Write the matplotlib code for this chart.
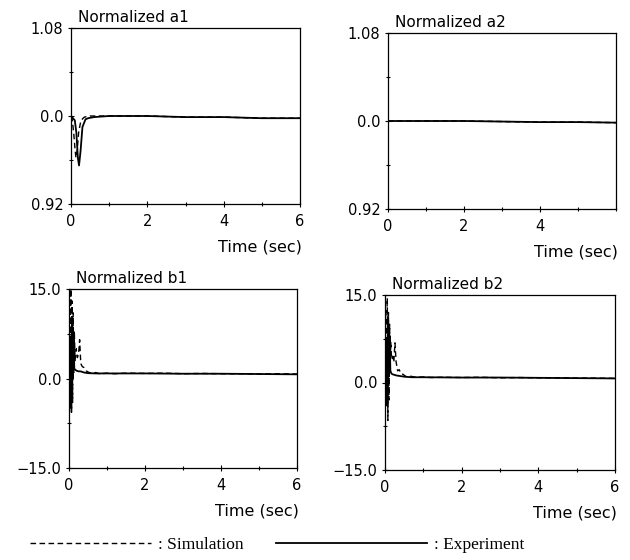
import matplotlib
matplotlib.use("Agg")
import matplotlib.pyplot as plt
from matplotlib.ticker import MultipleLocator

plt.rcParams['font.family'] = ['DejaVu Sans']

# ---------------- data ----------------
t_a1_exp = [0, 0.05, 0.10, 0.14, 0.18, 0.21, 0.25, 0.30, 0.38, 0.45, 0.6, 1.0, 2.0, 3.0, 4.0, 5.0, 6.0]
a1_exp = [1.0, 0.998, 0.996, 0.985, 0.962, 0.955, 0.968, 0.99, 0.997, 0.998, 0.999, 1.0, 1.0, 0.999, 0.999, 0.998, 0.998]
t_a1_sim = [0, 0.03, 0.07, 0.10, 0.13, 0.16, 0.20, 0.26, 0.35, 0.5, 1.0, 2.0, 3.0, 4.0, 5.0, 6.0]
a1_sim = [1.0, 0.997, 0.985, 0.972, 0.962, 0.968, 0.985, 0.996, 0.999, 1.0, 1.0, 1.0, 0.999, 0.999, 0.998, 0.998]

t_a2 = [0, 1.0, 2.0, 3.0, 4.0, 5.0, 6.0]
a2_exp = [1.0, 1.0, 1.0, 0.9995, 0.999, 0.999, 0.9985]
a2_sim = [1.0, 1.0, 1.0, 0.9995, 0.999, 0.999, 0.9985]

t_b1_sim = [0, 0.02, 0.04, 0.05, 0.065, 0.08, 0.095, 0.11, 0.125, 0.14, 0.16, 0.19, 0.22, 0.25, 0.28,
            0.31, 0.35, 0.40, 0.45, 0.5, 0.6, 0.7, 0.8, 1.0, 1.2, 1.5, 2.0, 2.5, 3.0, 3.5, 4.0, 4.5, 5.0, 5.5, 6.0]
b1_sim = [0, -3, 10, 15, -6, 13, -4, 11, 1, 8, 3, 5, 3.5, 4, 6.5,
          2.5, 2.0, 1.8, 1.3, 1.1, 0.8, 1.0, 0.8, 0.9, 0.8, 0.9, 0.85, 0.9, 0.8, 0.85, 0.8, 0.8, 0.75, 0.8, 0.75]
t_b1_exp = [0, 0.02, 0.04, 0.06, 0.08, 0.10, 0.12, 0.14, 0.16, 0.2, 0.25, 0.3, 0.4, 0.5, 0.7, 1.0, 2.0, 3.0, 4.0, 5.0, 6.0]
b1_exp = [0, 1.5, 6, -5, 10, 0, 7, 1.5, 1.5, 1.3, 1.2, 1.2, 1.0, 0.9, 0.85, 0.85, 0.85, 0.8, 0.8, 0.75, 0.7]

t_b2_sim = [0, 0.02, 0.04, 0.06, 0.075, 0.09, 0.105, 0.12, 0.135, 0.15, 0.17, 0.20, 0.23, 0.26, 0.29,
            0.33, 0.37, 0.42, 0.47, 0.55, 0.65, 0.8, 1.0, 1.2, 1.5, 2.0, 2.5, 3.0, 3.5, 4.0, 4.5, 5.0, 5.5, 6.0]
b2_sim = [0, -2, 9, 14.5, -6.5, 12, -3, 10, 2, 7, 4, 4.5, 3.5, 6.8, 3.5,
          2.0, 2.2, 1.5, 1.4, 1.0, 1.1, 0.9, 0.95, 0.85, 0.9, 0.85, 0.9, 0.8, 0.85, 0.8, 0.8, 0.75, 0.75, 0.7]
t_b2_exp = [0, 0.02, 0.04, 0.06, 0.08, 0.10, 0.12, 0.14, 0.17, 0.2, 0.25, 0.3, 0.4, 0.5, 0.7, 1.0, 2.0, 3.0, 4.0, 5.0, 6.0]
b2_exp = [0, 2, 7, -4, 11, 1, 8, 2, 1.5, 1.4, 1.3, 1.2, 1.1, 1.0, 0.9, 0.9, 0.85, 0.85, 0.8, 0.75, 0.7]

a_ticks = [0.92, 1.0, 1.08]
a_ticklabels = ["0.92", "0.0", "1.08"]
b_ticks = [-15, 0, 15]
b_ticklabels = ["\u221215.0", "0.0", "15.0"]
x_ticks = [0, 2, 4, 6]

titles = ["Normalized a1", "Normalized a2", "Normalized b1", "Normalized b2"]
xlabel = "Time (sec)"
legend_labels = [": Simulation", ": Experiment"]

# ---------------- figure ----------------
W, H = 630, 560
fig = plt.figure(figsize=(W / 100, H / 100), dpi=100)


def box(left, right, top, bottom):
    return [left / W, 1 - bottom / H, (right - left) / W, (bottom - top) / H]


positions = [
    box(71, 300, 28, 204),
    box(388, 616, 33, 209),
    box(69, 297, 289, 468),
    box(385, 615, 295, 470),
]
axes = [fig.add_axes(p) for p in positions]

sim_style = dict(color="black", lw=1.0, linestyle=(0, (4, 2.5)))
exp_style = dict(color="black", lw=1.3, linestyle="-")

series = [
    (t_a1_sim, a1_sim, t_a1_exp, a1_exp),
    (t_a2, a2_sim, t_a2, a2_exp),
    (t_b1_sim, b1_sim, t_b1_exp, b1_exp),
    (t_b2_sim, b2_sim, t_b2_exp, b2_exp),
]

handles = None
for i, ax in enumerate(axes):
    ts, ys, te, ye = series[i]
    hs, = ax.plot(ts, ys, **sim_style)
    he, = ax.plot(te, ye, **exp_style)
    if handles is None:
        handles = (hs, he)
    ax.set_xlim(0, 6)
    if i < 2:
        ax.set_ylim(0.92, 1.08)
        ax.set_yticks(a_ticks)
        ax.set_yticklabels(a_ticklabels)
        ax.yaxis.set_minor_locator(MultipleLocator(0.04))
    else:
        ax.set_ylim(-15, 15)
        ax.set_yticks(b_ticks)
        ax.set_yticklabels(b_ticklabels)
        ax.yaxis.set_minor_locator(MultipleLocator(7.5))
    if i == 1:
        ax.set_xticks(x_ticks[:-1])
    else:
        ax.set_xticks(x_ticks)
    ax.xaxis.set_minor_locator(MultipleLocator(1))
    ax.tick_params(axis="both", which="major", direction="inout", length=5, width=0.8,
                   labelsize=10.5)
    ax.tick_params(axis="x", which="major", pad=5)
    ax.tick_params(axis="y", which="major", pad=3)
    ax.tick_params(axis="both", which="minor", direction="inout", length=3, width=0.8)
    for sp in ax.spines.values():
        sp.set_linewidth(0.9)
    ax.text(0.03, 1.015, titles[i], transform=ax.transAxes, ha="left", va="bottom", fontsize=11)
    ax.annotate(xlabel, xy=(1.0, 0.0), xycoords="axes fraction", xytext=(1, -31),
                textcoords="offset points", ha="right", va="center", fontsize=11.5)

fig.legend([handles[0]], [legend_labels[0]], loc="center left",
           bbox_to_anchor=(14 / W, 1 - 545 / H), frameon=False, handlelength=7.0,
           handletextpad=0.4, prop={"family": "Liberation Serif", "size": 12.5})
fig.legend([handles[1]], [legend_labels[1]], loc="center left",
           bbox_to_anchor=(260 / W, 1 - 545 / H), frameon=False, handlelength=8.7,
           handletextpad=0.4, prop={"family": "Liberation Serif", "size": 12.5})

fig.savefig("out.png", dpi=100)
